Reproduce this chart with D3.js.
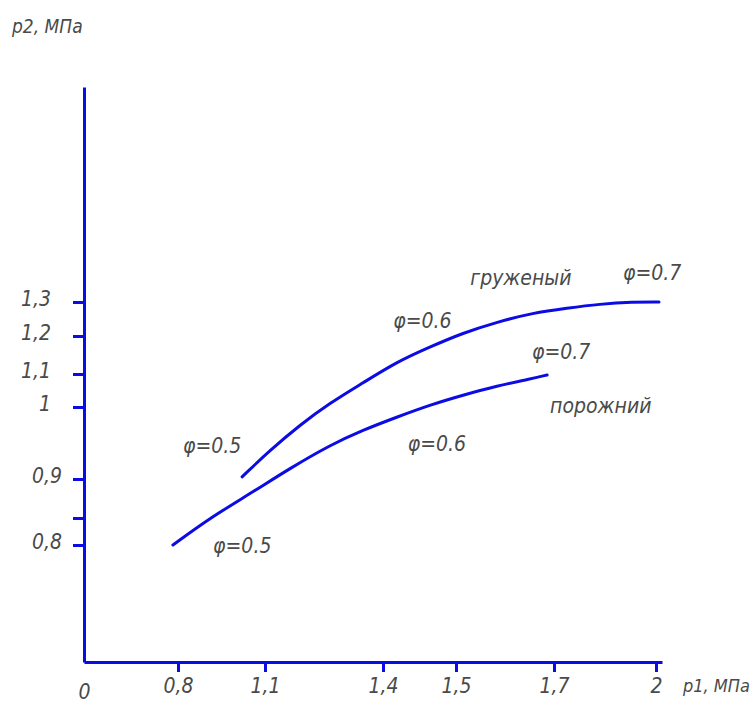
<!DOCTYPE html>
<html><head><meta charset="utf-8">
<script src="https://cdn.jsdelivr.net/npm/d3@7"></script>
<style>
html,body{margin:0;padding:0;background:#fff;}
svg{display:block;}
.t{font-family:"Liberation Sans Narrow","DejaVu Sans Condensed","Liberation Sans",sans-serif;font-style:italic;fill:#4a4a4a;}
</style></head><body>
<svg id="c" width="752" height="706"></svg>
<script>
// ---- data ----
const xTickValues = [0, 0.8, 1.1, 1.4, 1.5, 1.7, 2];
const xTickLabels = ["0", "0,8", "1,1", "1,4", "1,5", "1,7", "2"];
const yTickValues = [0.8, 0.85, 0.9, 1, 1.1, 1.2, 1.3];
const yTickLabels = ["0,8", "", "0,9", "1", "1,1", "1,2", "1,3"];

// loaded wagon ("груженый")
const loadedP1 = [1.021, 1.113, 1.189, 1.265, 1.349, 1.419, 1.464, 1.514, 1.584, 1.657, 1.738, 1.835, 1.932, 2.01];
const loadedP2 = [0.903, 0.940, 0.975, 1.012, 1.073, 1.132, 1.171, 1.209, 1.241, 1.268, 1.282, 1.294, 1.300, 1.300];
// empty wagon ("порожний")
const emptyP1 = [0.757, 0.910, 1.048, 1.164, 1.265, 1.349, 1.419, 1.464, 1.514, 1.584, 1.651, 1.686];
const emptyP2 = [0.800, 0.850, 0.881, 0.915, 0.947, 0.968, 0.986, 1.006, 1.036, 1.064, 1.085, 1.097];

// annotations (anchored in data units)
const noteTexts = ["φ=0.5", "φ=0.5", "φ=0.6", "φ=0.6", "φ=0.7", "φ=0.7", "груженый", "порожний"];
const noteP1 = [0.817, 0.921, 1.414, 1.434, 1.655, 1.903, 1.529, 1.692];
const noteP2 = [0.936, 0.745, 1.224, 0.939, 1.139, 1.366, 1.351, 0.992];

const xTitle = "p1, МПа";
const yTitle = "p2, МПа";

// ---- layout (hand-drawn, non-uniform axes -> piecewise linear scales) ----
const xRange = [84, 178, 265, 383, 456, 554, 656, 662];
const yRange = [662, 545, 518, 479, 407, 374, 336, 302, 87];
const blue = "#0b0be3";

const svg = d3.select("#c");
const x = d3.scaleLinear().domain([...xTickValues, 2.02]).range(xRange);
const y = d3.scaleLinear().domain([0, ...yTickValues, 1.95]).range(yRange);

// x axis
const gx = svg.append("g").attr("transform", `translate(0,${y(0)})`)
  .call(d3.axisBottom(x).tickValues(xTickValues).tickFormat((d, i) => xTickLabels[i])
    .tickSize(10).tickSizeOuter(0).tickPadding(6));
// y axis
const gy = svg.append("g").attr("transform", `translate(${x(0)},0)`)
  .call(d3.axisLeft(y).tickValues(yTickValues).tickFormat((d, i) => yTickLabels[i])
    .tickSize(11).tickSizeOuter(0));

[gx, gy].forEach(g => {
  g.select(".domain").attr("stroke", blue).attr("stroke-width", 3);
  g.selectAll(".tick line").attr("stroke", blue).attr("stroke-width", 3);
  g.selectAll(".tick text").attr("class", "t").attr("fill", null)
    .style("font-size", "21px").attr("font-family", null).attr("font-size", null);
});
gx.selectAll(".tick").filter(d => d === 0).select("line").remove();
gx.selectAll(".tick").filter(d => d === 0).select("text").attr("dy", "0.98em");
gy.selectAll(".tick text").attr("x", d => d < 0.95 ? -22 : -33).attr("dy", "0.15em");

// curves
const line = d3.line().x(d => x(d[0])).y(d => y(d[1])).curve(d3.curveBasis);
[[loadedP1, loadedP2], [emptyP1, emptyP2]].forEach(([a, b]) => {
  svg.append("path").datum(a.map((v, i) => [v, b[i]]))
    .attr("d", line).attr("fill", "none").attr("stroke", blue)
    .attr("stroke-width", 3).attr("stroke-linecap", "round");
});

// annotations
svg.selectAll("text.note").data(noteTexts).enter().append("text")
  .attr("class", "t note").attr("x", (d, i) => x(noteP1[i])).attr("y", (d, i) => y(noteP2[i]))
  .style("font-size", "21px").text(d => d);

// axis titles
svg.append("text").attr("class", "t").attr("x", 12).attr("y", 33).style("font-size", "19px").text(yTitle);
svg.append("text").attr("class", "t").attr("x", 683).attr("y", 692).style("font-size", "18px").text(xTitle);
</script>
</body></html>
